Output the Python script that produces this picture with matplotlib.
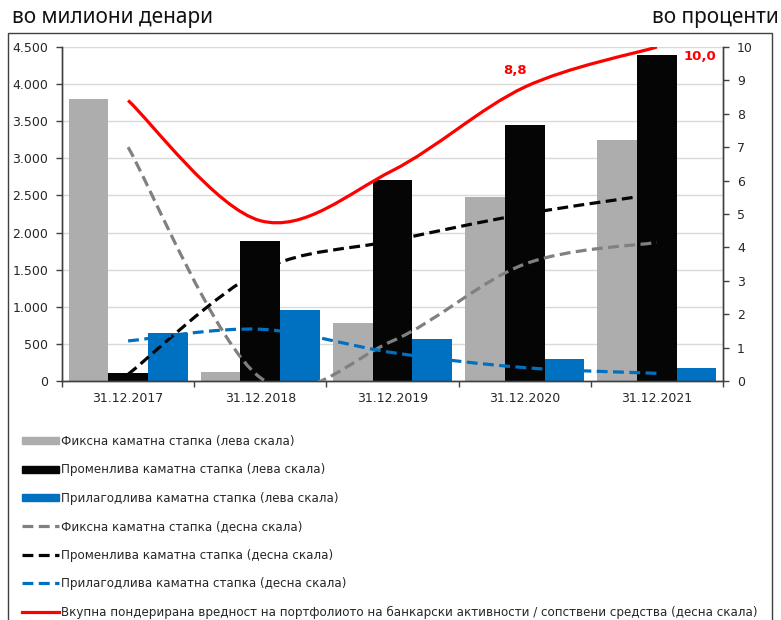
import numpy as np
import matplotlib
matplotlib.use('Agg')
import matplotlib.pyplot as plt
from matplotlib.path import Path
from matplotlib.patches import PathPatch, Patch, Rectangle
from matplotlib.lines import Line2D
from matplotlib.ticker import FuncFormatter, MultipleLocator, FixedLocator

####################################################################################################

years = ['31.12.2017', '31.12.2018', '31.12.2019', '31.12.2020', '31.12.2021']

# left scale, million denars
fixed_bar = [3800, 120, 780, 2480, 3250]
variable_bar = [110, 1880, 2710, 3450, 4390]
adjustable_bar = [650, 950, 560, 290, 175]

# right scale, percent
fixed_line = [7.0, 0.1, 1.2, 3.5, 4.15]
variable_line = [0.2, 3.3, 4.2, 5.0, 5.6]
adjustable_line = [1.2, 1.55, 0.85, 0.4, 0.23]
total_line = [8.4, 4.8, 6.3, 8.8, 10.0]

labels = [
    'Фиксна каматна стапка (лева скала)',
    'Променлива каматна стапка (лева скала)',
    'Прилагодлива каматна стапка (лева скала)',
    'Фиксна каматна стапка (десна скала)',
    'Променлива каматна стапка (десна скала)',
    'Прилагодлива каматна стапка (десна скала)',
    'Вкупна пондерирана вредност на портфолиото на банкарски активности / сопствени средства (десна скала)',
]

####################################################################################################

GREY_BAR = '#ADADAD'
GREY_LINE = '#808080'
BLACK = '#050505'
BLUE = '#0070C0'
RED = '#FF0000'
TEXT = '#262626'
DASH = (0, (3.4, 1.7))

plt.rcParams['font.family'] = ['DejaVu Sans']


def smooth_path(values):
    # Excel-like smoothed line: cubic Bezier segments through the points
    pts = np.column_stack([np.arange(len(values)), values]).astype(float)
    verts = [pts[0]]
    codes = [Path.MOVETO]
    n = len(pts)
    for i in range(n - 1):
        p0 = pts[max(i - 1, 0)]
        p1 = pts[i]
        p2 = pts[i + 1]
        p3 = pts[min(i + 2, n - 1)]
        c1 = p1 + (p2 - p0) / 6.0
        c2 = p2 - (p3 - p1) / 6.0
        verts += [c1, c2, p2]
        codes += [Path.CURVE4] * 3
    return Path(verts, codes)


figure = plt.figure(figsize=(7.81, 6.2), dpi=100)
axe1 = figure.add_axes([62 / 781, 1 - 381 / 620, 661 / 781, 334 / 620])
axe2 = axe1.twinx()

x = np.arange(len(years))
width = 0.3
axe1.bar(x - width, fixed_bar, width, color=GREY_BAR, zorder=2)
axe1.bar(x, variable_bar, width, color=BLACK, zorder=2)
axe1.bar(x + width, adjustable_bar, width, color=BLUE, zorder=2)

axe1.set_xlim(-0.5, 4.5)
axe1.set_ylim(0, 4500)
axe1.yaxis.set_major_locator(MultipleLocator(500))
axe1.yaxis.set_major_formatter(FuncFormatter(lambda v, p: f'{v:,.0f}'.replace(',', '.')))
axe1.grid(axis='y', color='#D9D9D9', linewidth=1)
axe1.set_axisbelow(True)

axe1.set_xticks(x)
axe1.set_xticklabels(years)
axe1.xaxis.set_minor_locator(FixedLocator(np.arange(-0.5, 5, 1)))
axe1.tick_params(axis='x', which='major', length=0, pad=8, labelsize=9, labelcolor=TEXT)
axe1.tick_params(axis='x', which='minor', length=4, width=1, color='#404040')
axe1.tick_params(axis='y', length=4, width=1, color='#404040', labelsize=9, labelcolor=TEXT, pad=6)

axe2.set_ylim(0, 10)
axe2.yaxis.set_major_locator(MultipleLocator(1))
axe2.tick_params(axis='y', length=4, width=1, color='#404040', labelsize=9, labelcolor=TEXT, pad=6)

for axe in (axe1, axe2):
    axe.spines['top'].set_visible(False)
    for side in ('left', 'right', 'bottom'):
        axe.spines[side].set_color('#404040')
        axe.spines[side].set_linewidth(1)

line_specs = [
    (fixed_line, GREY_LINE, DASH),
    (variable_line, BLACK, DASH),
    (adjustable_line, BLUE, DASH),
    (total_line, RED, '-'),
]
for values, color, style in line_specs:
    patch = PathPatch(smooth_path(values), fill=False, edgecolor=color, linewidth=2.3,
                      linestyle=style, capstyle='butt', zorder=3)
    axe2.add_patch(patch)

axe2.annotate('8,8', (3, total_line[3]), xytext=(-7, 12), textcoords='offset points',
              ha='center', va='center', color=RED, fontsize=9.5, fontweight='bold')
axe2.annotate('10,0', (4, total_line[4]), xytext=(31, -6.5), textcoords='offset points',
              ha='center', va='center', color=RED, fontsize=9.5, fontweight='bold')

####################################################################################################

handles = [
    Patch(color=GREY_BAR),
    Patch(color=BLACK),
    Patch(color=BLUE),
    Line2D([], [], color=GREY_LINE, lw=2.3, linestyle=DASH),
    Line2D([], [], color=BLACK, lw=2.3, linestyle=DASH),
    Line2D([], [], color=BLUE, lw=2.3, linestyle=DASH),
    Line2D([], [], color=RED, lw=2.3),
]
figure.legend(handles, labels, loc='upper left', bbox_to_anchor=(22 / 781, 1 - 435 / 620),
              frameon=False, fontsize=8.6, handlelength=3.1, handleheight=0.55,
              handletextpad=0.15, labelspacing=1.29, borderaxespad=0, borderpad=0,
              labelcolor=TEXT)

figure.text(12 / 781, 1 - 17 / 620, 'во милиони денари', fontsize=15, family='Noto Sans',
            ha='left', va='center', color='#111111')
figure.text(779 / 781, 1 - 17 / 620, 'во проценти', fontsize=15, family='Noto Sans',
            ha='right', va='center', color='#111111')

figure.add_artist(Rectangle((8 / 781, -0.05), 764 / 781, 1 - 33 / 620 + 0.05,
                            transform=figure.transFigure, fill=False,
                            edgecolor='#404040', linewidth=1))

figure.savefig('out.png', dpi=100)
